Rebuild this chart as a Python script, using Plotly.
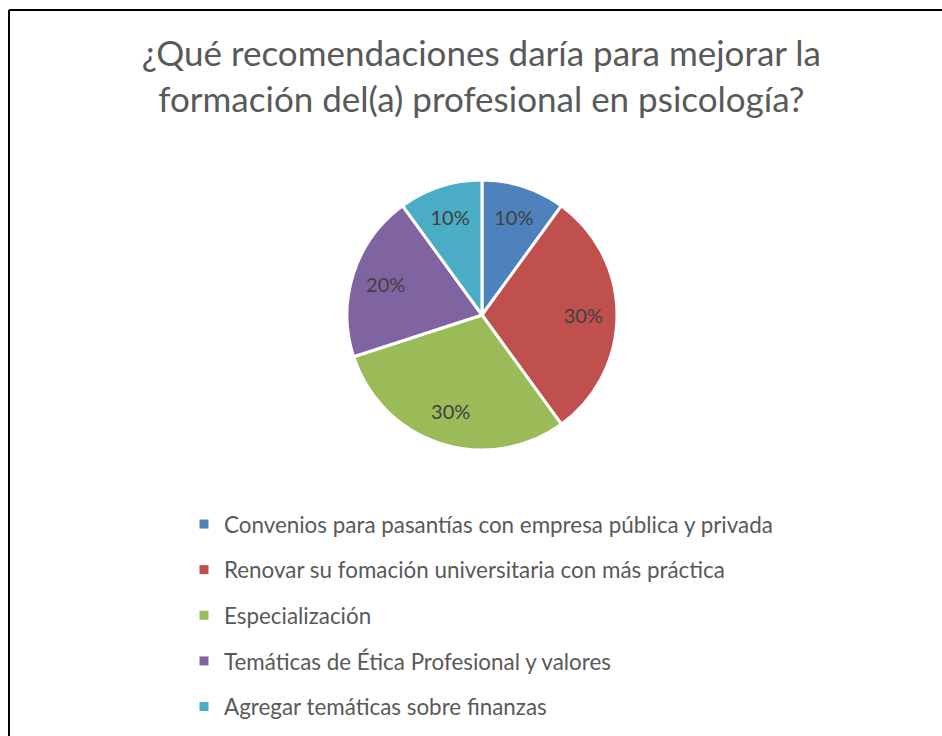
import plotly.graph_objects as go

categories = [
    "Convenios para pasantías con empresa pública y privada",
    "Renovar su fomación universitaria con más práctica",
    "Especialización",
    "Temáticas de Ética Profesional y valores",
    "Agregar temáticas sobre finanzas",
]
values = [10, 30, 30, 20, 10]
colors = ["#4F81BD", "#C0504D", "#9BBB59", "#8064A2", "#4BACC6"]

title_text = "¿Qué recomendaciones daría para mejorar la<br>formación del(a) profesional en psicología?"

W, H = 942, 736
cx, cy, r = 482, 315, 135
pie_domain = dict(x=[(cx - r) / W, (cx + r) / W], y=[1 - (cy + r) / H, 1 - (cy - r) / H])

fig = go.Figure()

# the slices
fig.add_trace(go.Pie(
    labels=categories,
    values=values,
    sort=False,
    direction="clockwise",
    rotation=0,
    marker=dict(colors=colors, line=dict(color="white", width=3)),
    textinfo="none",
    showlegend=False,
    hoverinfo="label+percent",
    domain=pie_domain,
))

# same data again as a see-through donut, only to push the % labels outward like Excel does
fig.add_trace(go.Pie(
    labels=categories,
    values=values,
    sort=False,
    direction="clockwise",
    rotation=0,
    hole=0.5,
    marker=dict(colors=["rgba(0,0,0,0)"] * len(values), line=dict(width=0)),
    textinfo="percent",
    textposition="inside",
    insidetextorientation="horizontal",
    textfont=dict(family="Lato", size=20, color="#404040"),
    showlegend=False,
    hoverinfo="skip",
    domain=pie_domain,
))

# legend entries, one group each so the spacing can be set
for i, (name, c) in enumerate(zip(categories, colors)):
    fig.add_trace(go.Scatter(
        x=[None], y=[None], mode="markers", name=name,
        legendgroup=str(i),
        marker=dict(symbol="square", size=9, color=c),
    ))

fig.update_layout(
    width=W, height=H,
    margin=dict(l=0, r=0, t=0, b=0, autoexpand=False),
    paper_bgcolor="white",
    plot_bgcolor="white",
    xaxis=dict(visible=False),
    yaxis=dict(visible=False),
    title=dict(
        text=title_text,
        x=0.511, xanchor="center",
        y=1 - 66 / H, yanchor="top",
        font=dict(family="Lato", size=35, color="#595959"),
    ),
    legend=dict(
        xref="container", yref="container",
        x=184 / W, xanchor="left",
        y=1 - 503 / H, yanchor="top",
        font=dict(family="Lato", size=22.4, color="#595959"),
        tracegroupgap=13.5,
        itemwidth=30,
        bgcolor="rgba(0,0,0,0)",
    ),
    shapes=[
        dict(type="line", xref="paper", yref="paper", x0=9 / W, x1=9 / W, y0=0, y1=1 - 10 / H,
             line=dict(color="black", width=2)),
        dict(type="line", xref="paper", yref="paper", x0=9 / W, x1=1, y0=1 - 10 / H, y1=1 - 10 / H,
             line=dict(color="black", width=2)),
    ],
)

# drop the browser's default 8px body margin so the figure sits at 0,0
fig.write_html("out.html", config={"displayModeBar": False},
               post_script="document.body.style.margin='0px';")
